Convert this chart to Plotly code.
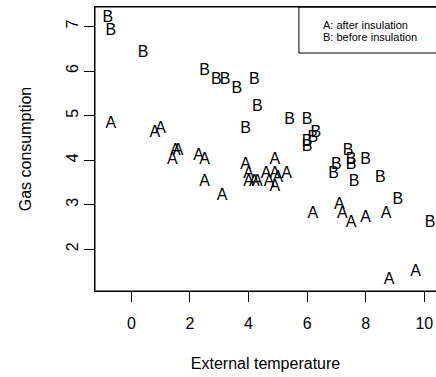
import plotly.graph_objects as go

# Whiteside data: before insulation (B) and after insulation (A)
temp_before = [-0.8, -0.7, 0.4, 2.5, 2.9, 3.2, 3.6, 3.9, 4.2, 4.3, 5.4, 6.0, 6.0, 6.0, 6.2, 6.3,
               6.9, 7.0, 7.4, 7.5, 7.5, 7.6, 8.0, 8.5, 9.1, 10.2]
gas_before = [7.2, 6.9, 6.4, 6.0, 5.8, 5.8, 5.6, 4.7, 5.8, 5.2, 4.9, 4.9, 4.3, 4.4, 4.5, 4.6,
              3.7, 3.9, 4.2, 4.0, 3.9, 3.5, 4.0, 3.6, 3.1, 2.6]
temp_after = [-0.7, 0.8, 1.0, 1.4, 1.5, 1.6, 2.3, 2.5, 2.5, 3.1, 3.9, 4.0, 4.0, 4.2, 4.3, 4.6,
              4.7, 4.9, 4.9, 4.9, 5.0, 5.3, 6.2, 7.1, 7.2, 7.5, 8.0, 8.7, 8.8, 9.7]
gas_after = [4.8, 4.6, 4.7, 4.0, 4.2, 4.2, 4.1, 4.0, 3.5, 3.2, 3.9, 3.5, 3.7, 3.5, 3.5, 3.7,
             3.5, 3.4, 3.7, 4.0, 3.6, 3.7, 2.8, 3.0, 2.8, 2.6, 2.7, 2.8, 1.3, 1.5]

x_ticks = [0, 2, 4, 6, 8, 10]
y_ticks = [2, 3, 4, 5, 6, 7]
legend_lines = ["A: after insulation", "B: before insulation"]

FONT = "Liberation Sans, Arial, Helvetica, sans-serif"

fig = go.Figure()
fig.add_trace(go.Scatter(x=temp_after, y=gas_after, mode="text", text=["A"] * len(temp_after),
                         textposition="middle center",
                         textfont=dict(family=FONT, size=16, color="black"),
                         showlegend=False, hoverinfo="skip"))
fig.add_trace(go.Scatter(x=temp_before, y=gas_before, mode="text", text=["B"] * len(temp_before),
                         textposition="middle center",
                         textfont=dict(family=FONT, size=16, color="black"),
                         showlegend=False, hoverinfo="skip"))

fig.update_layout(
    width=436, height=377,
    margin=dict(l=95, r=0, t=7, b=86, pad=0, autoexpand=False),
    paper_bgcolor="white", plot_bgcolor="white",
    font=dict(family=FONT, size=16, color="black"),
    xaxis=dict(range=[-1.24, 10.40], tickvals=x_ticks, ticktext=[str(v) for v in x_ticks],
               showgrid=False, zeroline=False, showline=True, mirror=True, automargin=False,
               linecolor="black", linewidth=1, ticks="outside", ticklen=10,
               tickcolor="black", tickwidth=1, ticklabelstandoff=8,
               title=dict(text="External temperature", standoff=26,
                          font=dict(family=FONT, size=16, color="black"))),
    yaxis=dict(range=[1.064, 7.436], tickvals=y_ticks, ticktext=[str(v) for v in y_ticks],
               showgrid=False, zeroline=False, showline=True, mirror=False, automargin=False,
               linecolor="black", linewidth=1, ticks="outside", ticklen=10,
               tickcolor="black", tickwidth=1, tickangle=-90, ticklabelstandoff=0,
               title=dict(text="Gas consumption", standoff=27,
                          font=dict(family=FONT, size=16, color="black"))),
)

# plot box (its right side lies beyond the image edge, as in the reference)
fig.add_shape(type="rect", xref="paper", yref="paper", x0=0, x1=1.3, y0=0, y1=1,
              line=dict(color="black", width=1), fillcolor="rgba(0,0,0,0)", layer="above")

# legend box (top right, clipped at the image edge like the reference)
fig.add_shape(type="rect", xref="paper", yref="paper", x0=0.598, x1=1.2, y0=0.838, y1=1.0,
              line=dict(color="black", width=1), fillcolor="rgba(0,0,0,0)")
fig.add_annotation(xref="paper", yref="paper", x=0.663, y=0.936, text=legend_lines[0],
                   showarrow=False, xanchor="left", yanchor="middle",
                   font=dict(family=FONT, size=11, color="black"))
fig.add_annotation(xref="paper", yref="paper", x=0.663, y=0.896, text=legend_lines[1],
                   showarrow=False, xanchor="left", yanchor="middle",
                   font=dict(family=FONT, size=11, color="black"))

fig.write_html("out.html", config={"displayModeBar": False},
               post_script="document.body.style.margin='0';document.body.style.overflow='hidden';")
